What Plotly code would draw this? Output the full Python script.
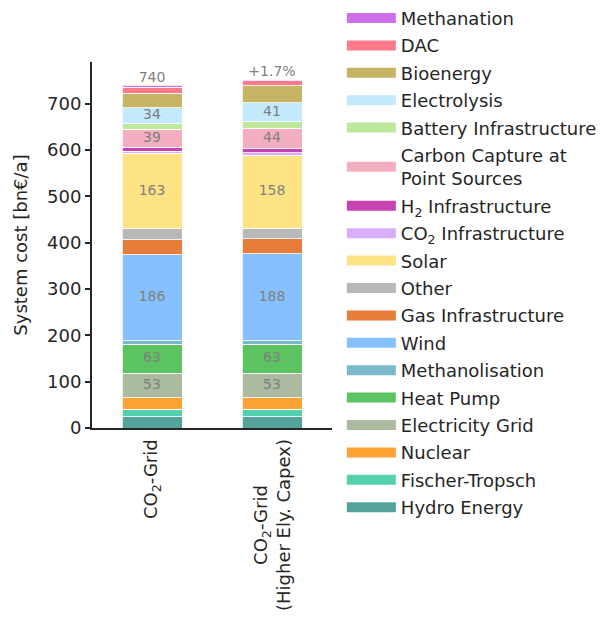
import numpy as np
import plotly.graph_objects as go

scenarios = ["CO<sub>2</sub>-Grid", "CO<sub>2</sub>-Grid<br>(Higher Ely. Capex)"]

# stacking order: bottom -> top
categories = [
    "Hydro Energy", "Fischer-Tropsch", "Nuclear", "Electricity Grid", "Heat Pump",
    "Methanolisation", "Wind", "Gas Infrastructure", "Other", "Solar",
    "CO<sub>2</sub> Infrastructure", "H<sub>2</sub> Infrastructure",
    "Carbon Capture at<br>Point Sources", "Battery Infrastructure", "Electrolysis",
    "Bioenergy", "DAC", "Methanation",
]
colors = [
    "#53a39a", "#55d0ad", "#fea333", "#abbba0", "#5bc360",
    "#79b9cb", "#86c0fd", "#e77d3b", "#b8b8b8", "#fde383",
    "#d8aefc", "#c843b1",
    "#f3afbf", "#bee89b", "#c2e9fc",
    "#c5b564", "#fe7a8a", "#cc6fe9",
]
values_base = [24, 17, 24, 53, 63, 7, 186, 32, 24, 163, 4, 9, 39, 12, 34, 32, 12, 5]
values_ely = [24, 17, 24, 53, 63, 7, 188, 32, 23, 158, 5, 9, 44, 14, 41, 37, 11, 2]
labeled = ["Electricity Grid", "Heat Pump", "Wind", "Solar",
           "Carbon Capture at<br>Point Sources", "Electrolysis"]
total_labels = ["740", "+1.7%"]

FONT = "DejaVu Sans"
TXT = "#262626"

fig = go.Figure()
vals = np.array([values_base, values_ely], dtype=float)  # shape (2, n)
for i, (cat, col) in enumerate(zip(categories, colors)):
    fig.add_trace(go.Bar(
        x=[0, 1], y=vals[:, i], name=cat, marker_color=col,
        marker_line=dict(color="rgba(255,255,255,0.8)", width=1),
        width=0.5, showlegend=False, hoverinfo="name+y",
    ))

# in-bar labels
cum = np.cumsum(vals, axis=1)
mid = cum - vals / 2
lx, ly, lt = [], [], []
for i, cat in enumerate(categories):
    if cat in labeled:
        for s in range(2):
            lx.append(s)
            ly.append(mid[s, i])
            lt.append(f"{vals[s, i]:.0f}")
fig.add_trace(go.Scatter(x=lx, y=ly, text=lt, mode="text", showlegend=False,
                         textfont=dict(family=FONT, size=14, color="#808080"),
                         hoverinfo="skip"))
# totals
fig.add_trace(go.Scatter(x=[0, 1], y=cum[:, -1], text=total_labels, mode="text",
                         textposition="top center", showlegend=False,
                         textfont=dict(family=FONT, size=14, color="#808080"),
                         hoverinfo="skip"))

# legend entries (top -> bottom)
for k, (cat, col) in enumerate(zip(categories[::-1], colors[::-1])):
    fig.add_trace(go.Scatter(x=[None], y=[None], mode="lines", name=cat,
                             legendgroup=f"g{k}",
                             line=dict(color=col, width=12)))

# category labels (rotated, centre-aligned lines like the reference)
for s, lab in enumerate(scenarios):
    fig.add_annotation(x=s, xref="x", y=0, yref="paper", text=lab,
                       textangle=-90, xanchor="center", yanchor="top",
                       align="center", showarrow=False, yshift=-10, borderpad=0,
                       font=dict(family=FONT, size=18, color=TXT))

fig.update_layout(
    width=604, height=621,
    margin=dict(l=84, r=280, t=54, b=201, autoexpand=False),
    plot_bgcolor="white", paper_bgcolor="white",
    barmode="stack",
    font=dict(family=FONT, size=18, color=TXT),
    legend=dict(x=1.041, xanchor="left", y=1.17, yanchor="top",
                traceorder="grouped", tracegroupgap=1.0,
                itemwidth=49, maxheight=610,
                font=dict(family=FONT, size=18, color=TXT),
                bgcolor="rgba(0,0,0,0)"),
    xaxis=dict(range=[-0.5, 1.5], tickvals=[0, 1], showticklabels=False,
               showline=True, linecolor="#262626", linewidth=2,
               ticks="", showgrid=False, zeroline=False, automargin=False),
    yaxis=dict(range=[0, 790], tickvals=list(range(0, 800, 100)),
               showline=True, linecolor="#262626", linewidth=2,
               ticks="outside", ticklen=5, tickwidth=1.5, tickcolor="#262626",
               showgrid=False, zeroline=False, automargin=False,
               title=dict(text="System cost [bn€/a]", font=dict(family=FONT, size=18, color=TXT)),
               tickfont=dict(family=FONT, size=18, color=TXT)),
)

fig.write_html("out.html")
